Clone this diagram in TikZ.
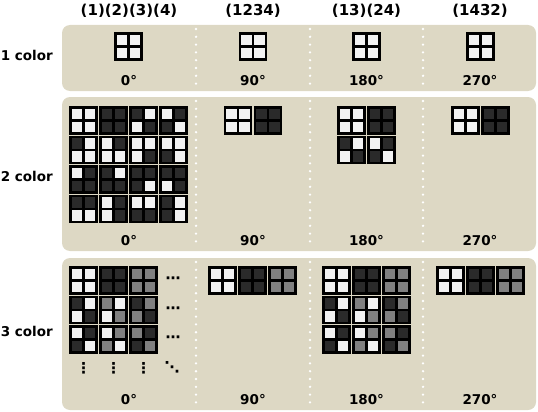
\documentclass[tikz,border=0pt]{standalone}
\usepackage{fontspec}
\setmainfont{DejaVu Sans}
\definecolor{panel}{RGB}{221,216,196}
\definecolor{cw}{RGB}{242,242,242}
\definecolor{cb}{RGB}{42,42,42}
\definecolor{cg}{RGB}{128,128,128}
\newcommand\sqr[6]{%
  \begin{scope}[shift={(#1,#2)}]
    \fill[#3] (0,0) rectangle (13.5,13.5);
    \fill[#4] (13.5,0) rectangle (27,13.5);
    \fill[#5] (0,13.5) rectangle (13.5,27);
    \fill[#6] (13.5,13.5) rectangle (27,27);
    \draw[gridline] (0.6,0.6) rectangle (26.4,26.4) (13.5,0) -- (13.5,27) (0,13.5) -- (27,13.5);
  \end{scope}}
\begin{document}
\begin{tikzpicture}[x=1pt,y=-1pt,
  hdr/.style={font=\bfseries\fontsize{15}{18}\selectfont, inner sep=0pt, anchor=base},
  lbl/.style={font=\bfseries\fontsize{13.5}{16}\selectfont, inner sep=0pt, anchor=base},
  rowlbl/.style={font=\bfseries\fontsize{13.5}{16}\selectfont, inner sep=0pt, anchor=base east},
  dotlbl/.style={font=\bfseries\fontsize{15}{18}\selectfont, inner sep=0pt},
  panelbox/.style={fill=panel, rounded corners=8pt},
  sep/.style={white, line width=2.6pt, line cap=round, dash pattern=on 0pt off 7.8pt},
  gridline/.style={black, line width=2.4pt}]
\useasboundingbox (0,0) rectangle (538,412);
% panels
\fill[panelbox] (62,25) rectangle (536,91);
\fill[panelbox] (62,97) rectangle (536,251);
\fill[panelbox] (62,258) rectangle (536,410);
% separators
\foreach \x in {196,310,423}{
  \draw[sep] (\x,29) -- (\x,89);
  \draw[sep] (\x,101) -- (\x,249);
  \draw[sep] (\x,262) -- (\x,408);
}
% headers
\node[hdr] (h1) at (129,16) {(1)(2)(3)(4)};
\node[hdr] (h2) at (253,16) {(1234)};
\node[hdr] (h3) at (366.5,16) {(13)(24)};
\node[hdr] (h4) at (480,16) {(1432)};
% row labels
\node[rowlbl] (r1) at (53,61) {1 color};
\node[rowlbl] (r2) at (53,181) {2 color};
\node[rowlbl] (r3) at (53,336) {3 color};
% angle labels
\foreach \r/\y in {1/85,2/245,3/404}{
  \node[lbl] (a0r\r) at (129,\y) {0°};
  \node[lbl] (a1r\r) at (253,\y) {90°};
  \node[lbl] (a2r\r) at (366.5,\y) {180°};
  \node[lbl] (a3r\r) at (480,\y) {270°};
}
% row 1
\sqr{115}{33}{cw}{cw}{cw}{cw}
\sqr{239.5}{33}{cw}{cw}{cw}{cw}
\sqr{353}{33}{cw}{cw}{cw}{cw}
\sqr{467}{33}{cw}{cw}{cw}{cw}
% row 2, identity
\sqr{70}{107}{cw}{cw}{cw}{cw}
\sqr{100}{107}{cb}{cb}{cb}{cb}
\sqr{130}{107}{cb}{cw}{cw}{cb}
\sqr{160}{107}{cw}{cb}{cb}{cw}
\sqr{70}{136.5}{cb}{cw}{cw}{cw}
\sqr{100}{136.5}{cw}{cb}{cw}{cw}
\sqr{130}{136.5}{cw}{cw}{cw}{cb}
\sqr{160}{136.5}{cw}{cw}{cb}{cw}
\sqr{70}{166}{cw}{cb}{cb}{cb}
\sqr{100}{166}{cb}{cw}{cb}{cb}
\sqr{130}{166}{cb}{cb}{cb}{cw}
\sqr{160}{166}{cb}{cb}{cw}{cb}
\sqr{70}{195.5}{cb}{cb}{cw}{cw}
\sqr{100}{195.5}{cw}{cb}{cw}{cb}
\sqr{130}{195.5}{cw}{cw}{cb}{cb}
\sqr{160}{195.5}{cb}{cw}{cb}{cw}
% row 2, 90
\sqr{224.5}{107}{cw}{cw}{cw}{cw}
\sqr{254.5}{107}{cb}{cb}{cb}{cb}
% row 2, 180
\sqr{338}{107}{cw}{cw}{cw}{cw}
\sqr{368}{107}{cb}{cb}{cb}{cb}
\sqr{338}{136.5}{cb}{cw}{cw}{cb}
\sqr{368}{136.5}{cw}{cb}{cb}{cw}
% row 2, 270
\sqr{452}{107}{cw}{cw}{cw}{cw}
\sqr{482}{107}{cb}{cb}{cb}{cb}
% row 3, identity
\sqr{70}{267}{cw}{cw}{cw}{cw}
\sqr{100}{267}{cb}{cb}{cb}{cb}
\sqr{130}{267}{cg}{cg}{cg}{cg}
\sqr{70}{296.5}{cb}{cw}{cw}{cb}
\sqr{100}{296.5}{cg}{cw}{cw}{cg}
\sqr{130}{296.5}{cb}{cg}{cg}{cb}
\sqr{70}{326}{cw}{cb}{cb}{cw}
\sqr{100}{326}{cw}{cg}{cg}{cw}
\sqr{130}{326}{cg}{cb}{cb}{cg}
\node[dotlbl] (e1) at (173,280) {⋯};
\node[dotlbl] (e2) at (173,310) {⋯};
\node[dotlbl] (e3) at (173,339.5) {⋯};
\node[dotlbl] (v1) at (83.5,368) {⋮};
\node[dotlbl] (v2) at (113.5,368) {⋮};
\node[dotlbl] (v3) at (143.5,368) {⋮};
\node[dotlbl] (d1) at (172,367) {⋱};
% row 3, 90
\sqr{209}{267}{cw}{cw}{cw}{cw}
\sqr{239}{267}{cb}{cb}{cb}{cb}
\sqr{269}{267}{cg}{cg}{cg}{cg}
% row 3, 180
\sqr{323}{267}{cw}{cw}{cw}{cw}
\sqr{353}{267}{cb}{cb}{cb}{cb}
\sqr{383}{267}{cg}{cg}{cg}{cg}
\sqr{323}{296.5}{cb}{cw}{cw}{cb}
\sqr{353}{296.5}{cg}{cw}{cw}{cg}
\sqr{383}{296.5}{cb}{cg}{cg}{cb}
\sqr{323}{326}{cw}{cb}{cb}{cw}
\sqr{353}{326}{cw}{cg}{cg}{cw}
\sqr{383}{326}{cg}{cb}{cb}{cg}
% row 3, 270
\sqr{437}{267}{cw}{cw}{cw}{cw}
\sqr{467}{267}{cb}{cb}{cb}{cb}
\sqr{497}{267}{cg}{cg}{cg}{cg}
\end{tikzpicture}
\end{document}
